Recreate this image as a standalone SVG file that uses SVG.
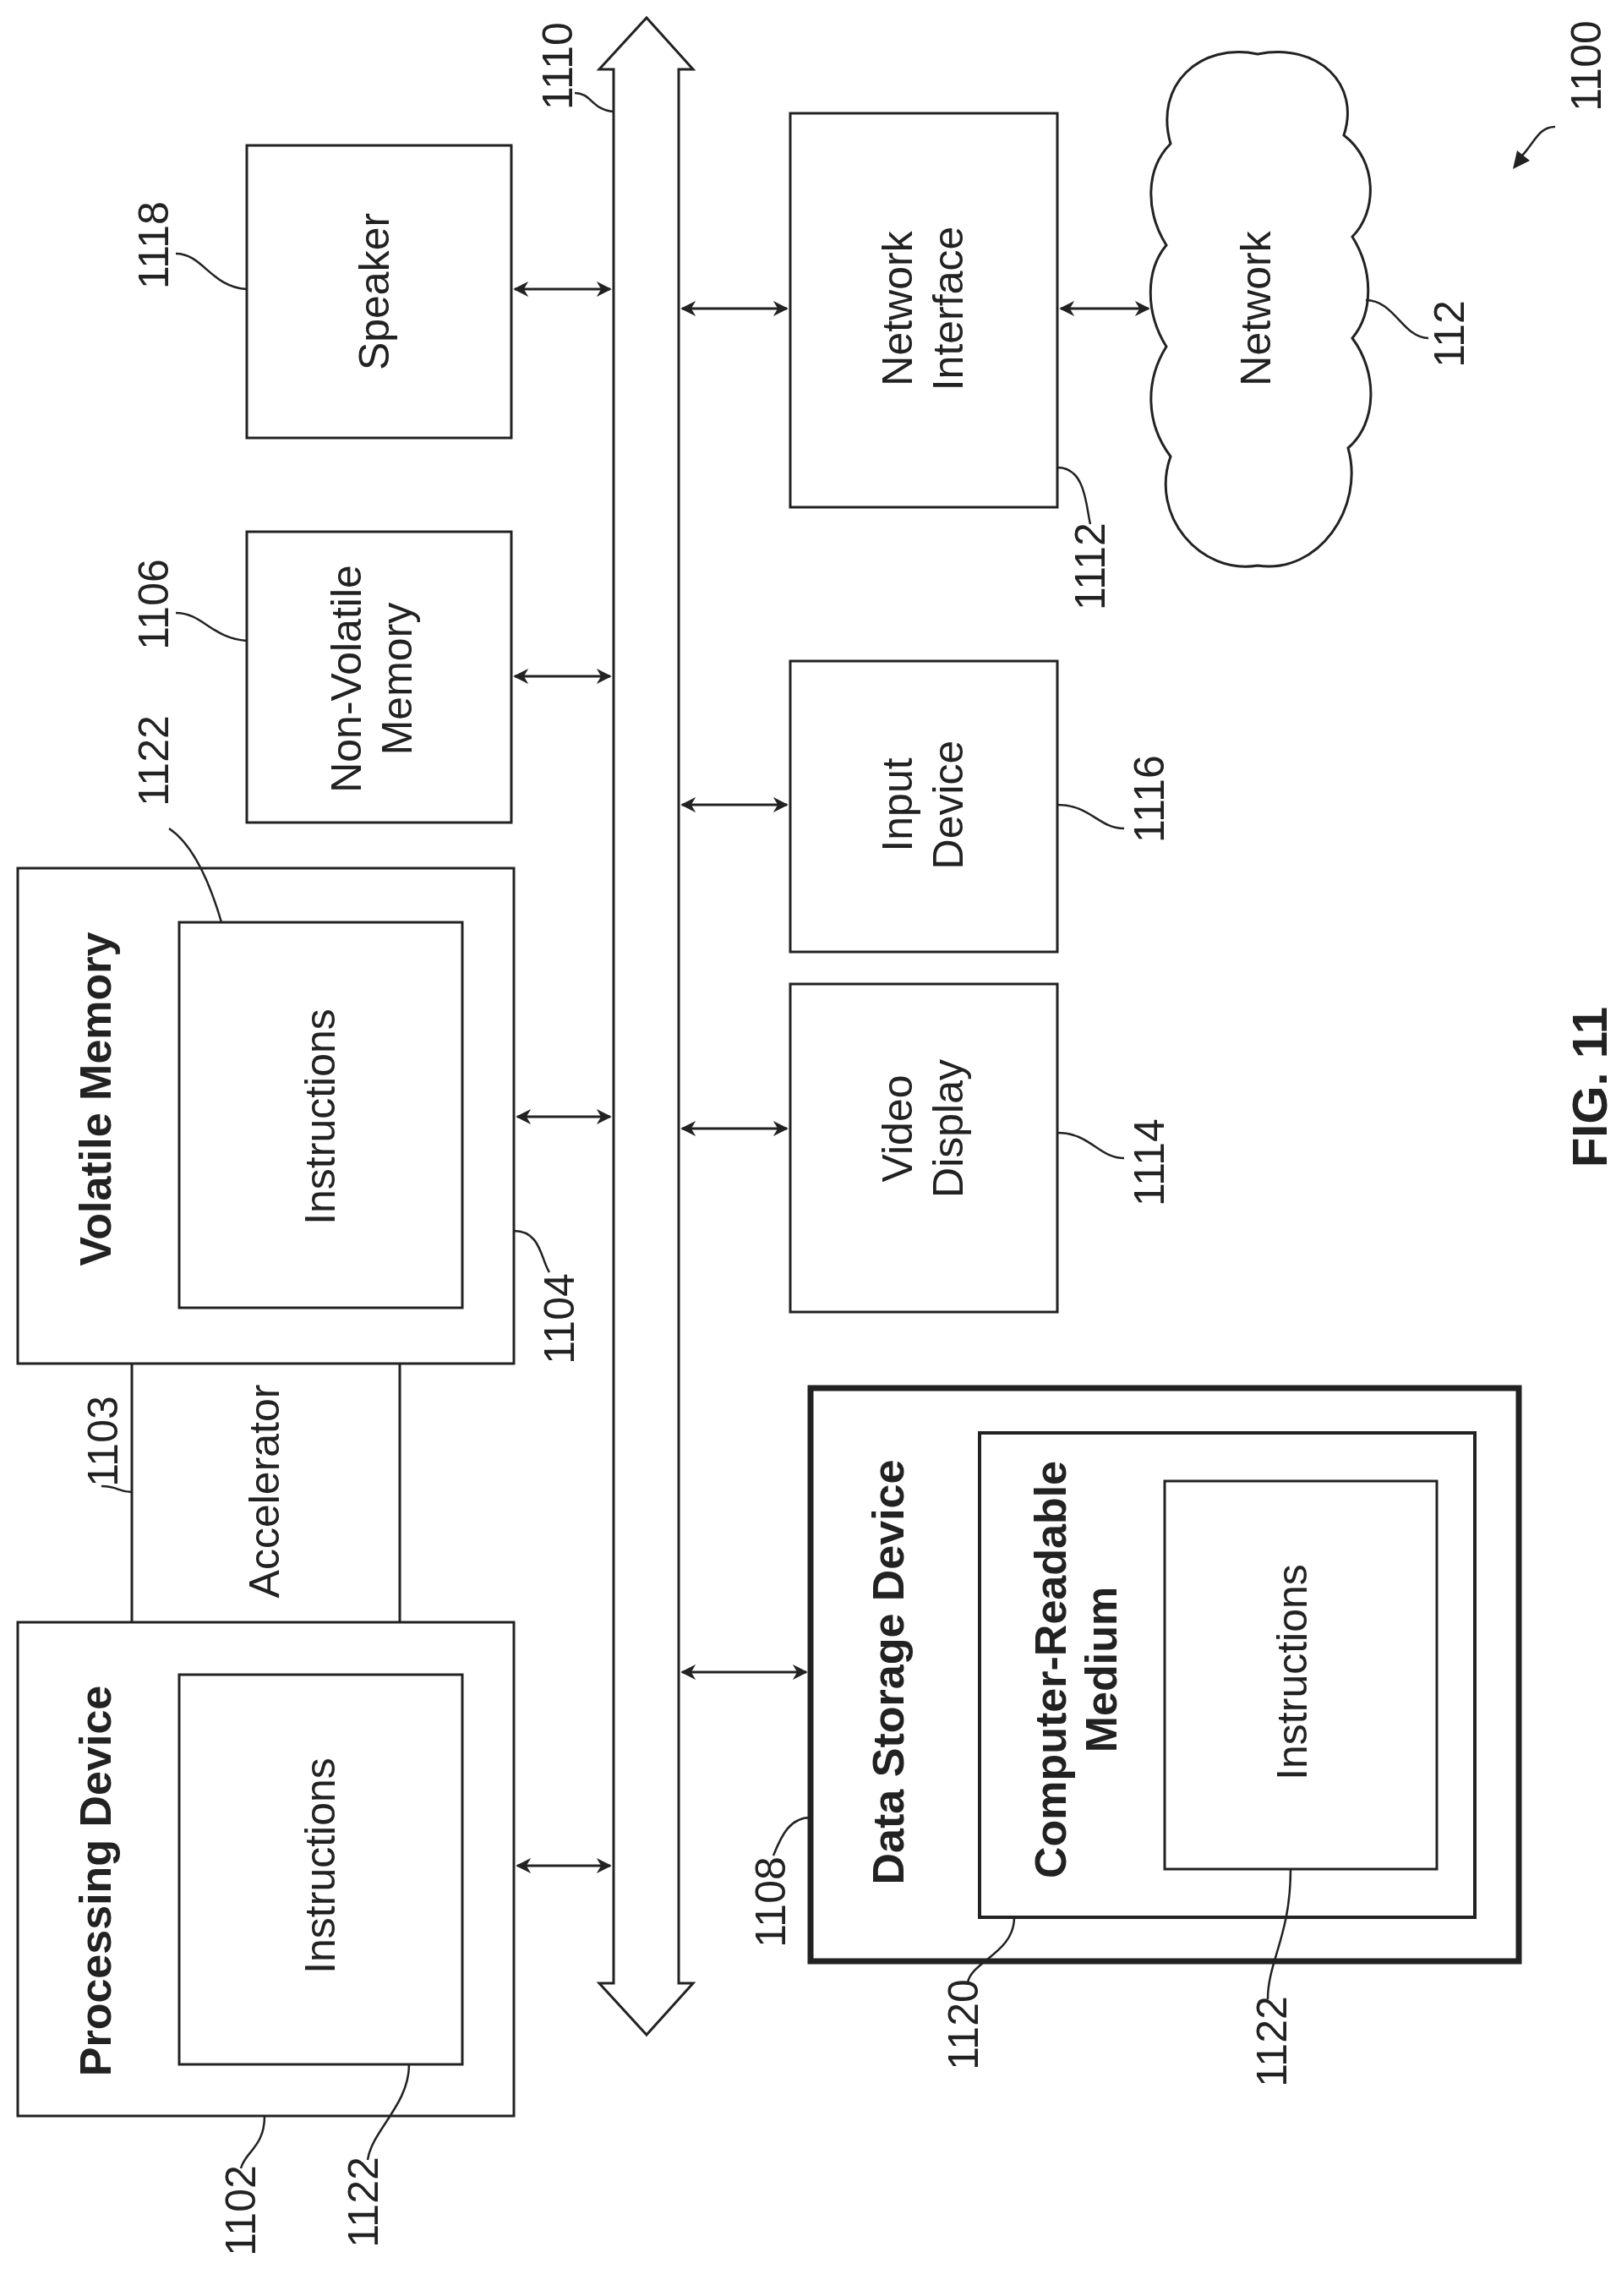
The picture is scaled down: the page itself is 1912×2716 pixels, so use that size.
<svg xmlns="http://www.w3.org/2000/svg" width="1912" height="2716" viewBox="0 0 1912 2716">
<style>
.b{fill:none;stroke:#222;stroke-width:3}
.bt{fill:none;stroke:#222;stroke-width:7}
.t{font-family:"Liberation Sans",Arial,sans-serif;font-size:50px;fill:#222;text-anchor:middle;dominant-baseline:central}
.h{font-weight:bold;font-size:52px}
.n{font-size:50px}
.l{fill:none;stroke:#222;stroke-width:2.5}
.a{fill:none;stroke:#222;stroke-width:3;marker-start:url(#ah);marker-end:url(#ah)}
</style>
<defs>
<marker id="ah" viewBox="0 0 10 10" refX="9" refY="5" markerWidth="6" markerHeight="6" orient="auto-start-reverse" markerUnits="strokeWidth"><path d="M0,0 L10,5 L0,10 L3,5 z" fill="#222"/></marker>
</defs>
<rect width="1912" height="2716" fill="#fff"/>
<g id="bus"><polygon class="b" points="726,82 709,82 765,21 820,82 803,82 803,2346 820,2346 765,2407 709,2346 726,2346"/></g>
<g id="speaker"><rect class="b" x="292" y="172" width="313" height="346"/><text class="t" transform="translate(443,345) rotate(-90)">Speaker</text></g>
<g id="nvm"><rect class="b" x="292" y="629" width="313" height="344"/><text class="t" transform="translate(410,803) rotate(-90)">Non-Volatile</text><text class="t" transform="translate(470,803) rotate(-90)">Memory</text></g>
<g id="vm"><rect class="b" x="21" y="1027" width="587" height="586"/><text class="t h" transform="translate(113,1300) rotate(-90)">Volatile Memory</text><rect class="b" x="212" y="1091" width="335" height="456"/><text class="t" transform="translate(379,1321) rotate(-90)">Instructions</text></g>
<g id="acc"><line class="b" x1="156" y1="1613" x2="156" y2="1919"/><line class="b" x1="473" y1="1613" x2="473" y2="1919"/><text class="t" transform="translate(313,1764) rotate(-90)">Accelerator</text></g>
<g id="pd"><rect class="b" x="21" y="1919" width="587" height="584"/><text class="t h" transform="translate(113,2225) rotate(-90)">Processing Device</text><rect class="b" x="212" y="1981" width="335" height="461"/><text class="t" transform="translate(379,2207) rotate(-90)">Instructions</text></g>
<g id="ni"><rect class="b" x="935" y="134" width="316" height="466"/><text class="t" transform="translate(1062,365) rotate(-90)">Network</text><text class="t" transform="translate(1122,365) rotate(-90)">Interface</text></g>
<g id="id"><rect class="b" x="935" y="782" width="316" height="344"/><text class="t" transform="translate(1062,952) rotate(-90)">Input</text><text class="t" transform="translate(1122,952) rotate(-90)">Device</text></g>
<g id="vd"><rect class="b" x="935" y="1164" width="316" height="388"/><text class="t" transform="translate(1062,1335) rotate(-90)">Video</text><text class="t" transform="translate(1122,1335) rotate(-90)">Display</text></g>
<g id="dsd"><rect class="bt" x="959" y="1642" width="838" height="678"/><text class="t h" transform="translate(1051,1978) rotate(-90)">Data Storage Device</text>
<rect class="b" x="1159" y="1695" width="586" height="573" style="stroke-width:4"/><text class="t h" transform="translate(1243,1975) rotate(-90)">Computer-Readable</text><text class="t h" transform="translate(1303,1975) rotate(-90)">Medium</text>
<rect class="b" x="1378" y="1752" width="322" height="459"/><text class="t" transform="translate(1529,1978) rotate(-90)">Instructions</text></g>
<g id="network"><path class="b" d="M1488,64 C1560,50 1610,100 1590,160 C1630,190 1630,250 1600,280 C1625,320 1625,370 1600,400 C1630,440 1630,500 1595,530 C1615,600 1560,680 1488,669 C1420,680 1360,610 1385,540 C1355,500 1355,450 1380,410 C1355,370 1355,320 1380,290 C1355,250 1355,200 1385,170 C1365,100 1420,50 1488,64 Z"/><text class="t" transform="translate(1486,365) rotate(-90)">Network</text></g>
<g id="connectors">
<line class="a" x1="609" y1="342" x2="722" y2="342"/>
<line class="a" x1="609" y1="800" x2="722" y2="800"/>
<line class="a" x1="612" y1="1321" x2="722" y2="1321"/>
<line class="a" x1="612" y1="2207" x2="722" y2="2207"/>
<line class="a" x1="807" y1="365" x2="931" y2="365"/>
<line class="a" x1="807" y1="952" x2="931" y2="952"/>
<line class="a" x1="807" y1="1335" x2="931" y2="1335"/>
<line class="a" x1="807" y1="1978" x2="954" y2="1978"/>
<line class="a" x1="1255" y1="365" x2="1359" y2="365"/>
</g>
<g id="labels">
<text class="t n" transform="translate(1877,78) rotate(-90)">1100</text>
<path class="l" d="M1840,150 C1820,150 1815,170 1800,185"/><polygon points="1790,200 1795,178 1810,190" fill="#222"/>
<text class="t n" transform="translate(182,290) rotate(-90)">1118</text><path class="l" d="M208,300 C240,300 250,340 292,342"/>
<text class="t n" transform="translate(660,78) rotate(-90)">1110</text><path class="l" d="M680,110 C700,110 700,130 726,132"/>
<text class="t n" transform="translate(182,715) rotate(-90)">1106</text><path class="l" d="M208,725 C240,725 250,755 292,758"/>
<text class="t n" transform="translate(182,900) rotate(-90)">1122</text><path class="l" d="M200,980 C230,1000 250,1050 262,1091"/>
<text class="t n" transform="translate(122,1705) rotate(-90)">1103</text><path class="l" d="M120,1758 C140,1758 140,1765 156,1765"/>
<text class="t n" transform="translate(662,1560) rotate(-90)">1104</text><path class="l" d="M608,1456 C640,1456 640,1490 650,1505"/>
<text class="t n" transform="translate(285,2615) rotate(-90)">1102</text><path class="l" d="M313,2503 C313,2540 290,2545 285,2565"/>
<text class="t n" transform="translate(430,2605) rotate(-90)">1122</text><path class="l" d="M484,2442 C484,2490 440,2520 435,2555"/>
<text class="t n" transform="translate(912,2250) rotate(-90)">1108</text><path class="l" d="M959,2150 C935,2150 925,2170 915,2195"/>
<text class="t n" transform="translate(1140,2395) rotate(-90)">1120</text><path class="l" d="M1200,2268 C1200,2310 1150,2320 1145,2345"/>
<text class="t n" transform="translate(1505,2415) rotate(-90)">1122</text><path class="l" d="M1527,2211 C1527,2290 1500,2320 1500,2365"/>
<text class="t n" transform="translate(1360,1375) rotate(-90)">1114</text><path class="l" d="M1251,1340 C1290,1340 1300,1370 1330,1370"/>
<text class="t n" transform="translate(1360,945) rotate(-90)">1116</text><path class="l" d="M1251,952 C1290,952 1300,980 1330,980"/>
<text class="t n" transform="translate(1290,670) rotate(-90)">1112</text><path class="l" d="M1251,553 C1285,553 1285,600 1290,620"/>
<text class="t n" transform="translate(1715,395) rotate(-90)">112</text><path class="l" d="M1616,355 C1650,355 1660,400 1690,400"/>
<text class="t h" style="font-size:58px" transform="translate(1880,1286) rotate(-90)">FIG. 11</text>
</g>
</svg>
